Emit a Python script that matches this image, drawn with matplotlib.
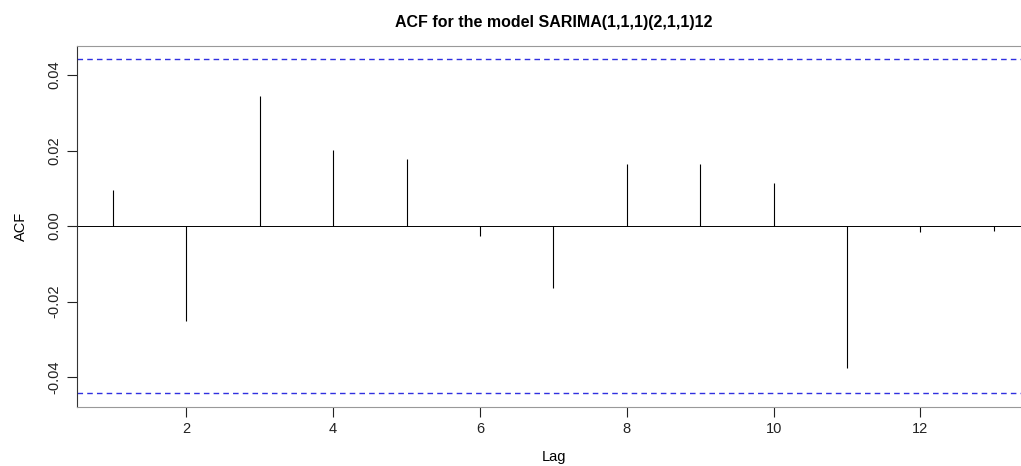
import matplotlib.pyplot as plt
import numpy as np

plt.rcParams['font.family'] = ['Liberation Sans', 'DejaVu Sans']

lags = np.arange(1, 14)
acf = [0.0095, -0.0252, 0.0344, 0.0201, 0.0177, -0.0026, -0.0164,
       0.0164, 0.0164, 0.0114, -0.0376, -0.0016, -0.0013]
ci = 0.0442
xticks = [2, 4, 6, 8, 10, 12]
yticks = [-0.04, -0.02, 0.00, 0.02, 0.04]

fig = plt.figure(figsize=(10.21, 4.66), dpi=100)
ax = fig.add_axes([77 / 1021, 1 - 407 / 466, 954 / 1021, 361 / 466])

ax.vlines(lags, 0, acf, color='black', linewidth=0.8)
ax.axhline(0, color='black', linewidth=0.7)
ax.axhline(ci, color='#3030e0', linewidth=1, linestyle=(0, (4, 3)))
ax.axhline(-ci, color='#3030e0', linewidth=1, linestyle=(0, (4, 3)))

ax.set_xlim(0.51, 0.51 + 954 / 73.4)
ax.set_ylim(-0.0479, 0.0477)
ax.set_xticks(xticks)
ax.set_xticklabels([str(t) for t in xticks])
ax.set_yticks(yticks)
ax.set_yticklabels(['%.2f' % t for t in yticks], rotation=90, va='center')
ax.tick_params(direction='out', length=7, width=0.8, labelsize=10.5, pad=4, colors='#222222')

for s in ['top', 'bottom']:
    ax.spines[s].set_color('#999999')
ax.spines['left'].set_color('#333333')
ax.spines['right'].set_visible(False)

ax.set_xlabel('Lag', fontsize=10.5, labelpad=10)
ax.set_ylabel('ACF', fontsize=10.5, labelpad=14)
ax.set_title('ACF for the model SARIMA(1,1,1)(2,1,1)12', fontsize=11.5,
             fontweight='bold', pad=14)

fig.savefig('out.png', dpi=100)
